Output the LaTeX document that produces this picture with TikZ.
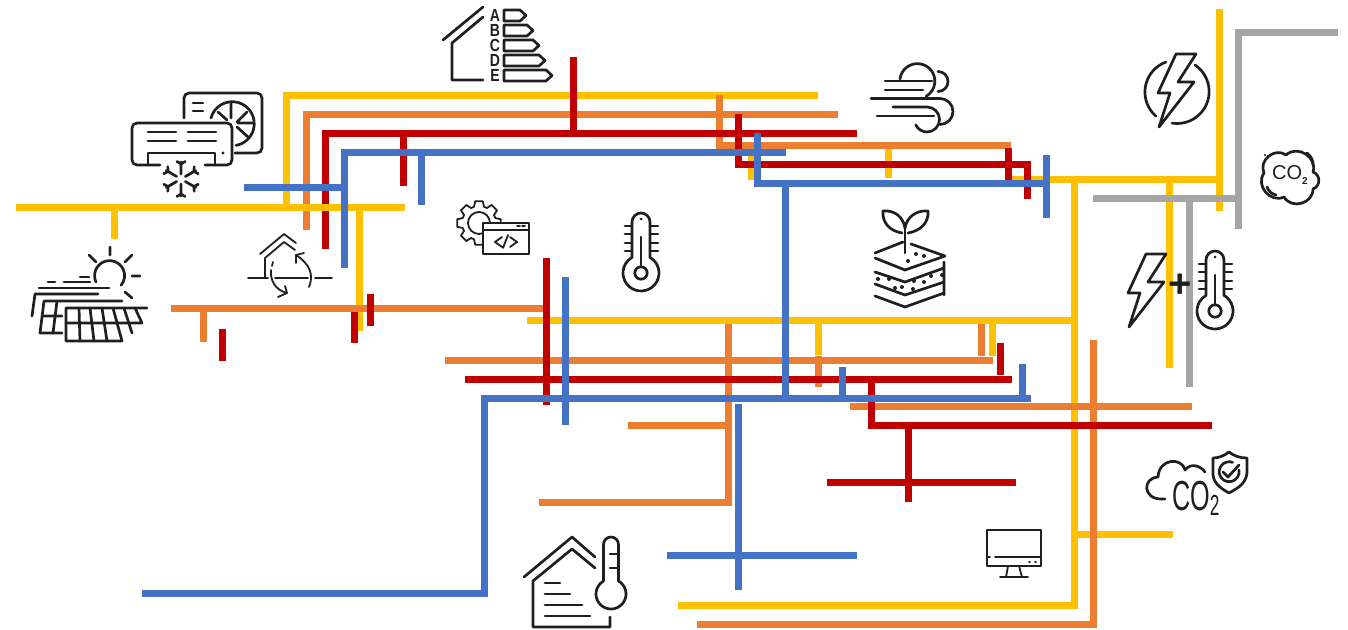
\documentclass[tikz,border=0pt]{standalone}
\usepackage{fontspec}
\setmainfont{Liberation Sans}
\usetikzlibrary{arrows.meta,positioning,calc}
\definecolor{NetYellow}{HTML}{FFC000}
\definecolor{NetOrange}{HTML}{ED7D31}
\definecolor{NetRed}{HTML}{C00000}
\definecolor{NetBlue}{HTML}{4472C4}
\definecolor{NetGray}{HTML}{A5A5A5}
\definecolor{NetInk}{HTML}{1F1F1F}
\tikzset{
  bus/.style={line width=7pt,miter limit=10},
  busyellow/.style={bus,NetYellow},
  busorange/.style={bus,NetOrange},
  busred/.style={bus,NetRed},
  busblue/.style={bus,NetBlue},
  busgray/.style={bus,NetGray},
  icon/.style={draw=NetInk,line width=2.7pt,line cap=round,line join=round},
  iconthin/.style={icon,line width=1.8pt},
  icondot/.style={fill=NetInk,draw=none},
  iconlabel/.style={text=NetInk,inner sep=0pt},
  energylabel/.style={iconlabel,font=\fontsize{17.5}{17.5}\selectfont\bfseries,xscale=.8,transform shape},
  thermopic/.pic={
    \draw[icon] (-9,-15.6) -- (-9,-51) arc[start angle=180,end angle=360,radius=9]
      -- (9,-15.6) arc[start angle=-60,end angle=240,radius=18];
    \draw[icon] (0,-36) -- (0,-6);
    \draw[icon] (0,0) circle[radius=6.2];
    \fill[icondot] (0,-54) circle[radius=1.5];
    \draw[icon] (-16,-47) -- (-9,-47) (-16,-39) -- (-9,-39) (-16,-30) -- (-9,-30) (-16,-22) -- (-9,-22);
    \draw[icon] (9,-47) -- (17,-47) (9,-39) -- (17,-39) (9,-30) -- (17,-30) (9,-22) -- (17,-22);
  },
  boltpic/.pic={
    \draw[icon] (0,0) -- (20,0) -- (2,28) -- (18,28) -- (-17,73) -- (-6,39) -- (-18,39) -- cycle;
  },
}
\begin{document}
\begin{tikzpicture}[x=1pt,y=-1pt]
    \useasboundingbox (0,0) rectangle (1348,629);

    \draw[busyellow] (286,211) -- (286,95) -- (818,95);
    \draw[busyellow] (114,207) -- (114,239);
    \draw[busyellow] (359,207) -- (359,331);
    \draw[busyellow] (751,145) -- (751,180);
    \draw[busyellow] (888,145) -- (888,178);
    \draw[busyellow] (1008,179) -- (1219,179);
    \draw[busyellow] (1219,9) -- (1219,211);
    \draw[busyellow] (1169,179) -- (1169,368);
    \draw[busyellow] (1074,179) -- (1074,605) -- (678,605);
    \draw[busyellow] (1074,534) -- (1173,534);
    \draw[busyellow] (527,320) -- (1074,320);
    \draw[busyellow] (818,320) -- (818,355);
    \draw[busyellow] (992,324) -- (992,356);

    \draw[busorange] (306,230) -- (306,114) -- (838,114);
    \draw[busorange] (719,95) -- (719,145) -- (1011,145);
    \draw[busorange] (171,308) -- (546,308);
    \draw[busorange] (203,308) -- (203,342);
    \draw[busorange] (445,360) -- (993,360);
    \draw[busorange] (818,356) -- (818,387);
    \draw[busorange] (981,324) -- (981,356);
    \draw[busorange] (728,324) -- (728,502) -- (539,502);
    \draw[busorange] (628,425) -- (728,425);
    \draw[busorange] (850,406) -- (1192,406);
    \draw[busorange] (1093,340) -- (1093,624) -- (697,624);

    \draw[busred] (325,249) -- (325,133) -- (857,133);
    \draw[busred] (573,57) -- (573,133);
    \draw[busred] (403,133) -- (403,186);
    \draw[busred] (738,114) -- (738,164) -- (1027,164) -- (1027,199);
    \draw[busred] (1008,148) -- (1008,180);
    \draw[busred] (222,329) -- (222,361);
    \draw[busred] (354,312) -- (354,343);
    \draw[busred] (370,294) -- (370,326);
    \draw[busred] (546,258) -- (546,405);
    \draw[busred] (465,379) -- (1012,379);
    \draw[busred] (1000,343) -- (1000,375);
    \draw[busred] (871,379) -- (871,425) -- (1212,425);
    \draw[busred] (908,425) -- (908,502);
    \draw[busred] (827,482) -- (1016,482);

    \draw[busyellow] (16,207) -- (405,207);

    \draw[busblue] (344,268) -- (344,152) -- (786,152);
    \draw[busblue] (244,187) -- (344,187);
    \draw[busblue] (421,152) -- (421,205);
    \draw[busblue] (757,133) -- (757,183) -- (1046,183);
    \draw[busblue] (1046,155) -- (1046,218);
    \draw[busblue] (785,183) -- (785,398);
    \draw[busblue] (565,277) -- (565,425);
    \draw[busblue] (1031,398) -- (484,398) -- (484,593) -- (142,593);
    \draw[busblue] (842,367) -- (842,398);
    \draw[busblue] (1022,364) -- (1022,398);
    \draw[busblue] (738,404) -- (738,590);
    \draw[busblue] (667,555) -- (857,555);

    \draw[busgray] (1093,198) -- (1238,198);
    \draw[busgray] (1238,229) -- (1238,32) -- (1338,32);
    \draw[busgray] (1189,198) -- (1189,387);

    \draw[icon] (443,40) -- (483,7);
    \draw[icon] (483,17) -- (452,43) -- (452,80) -- (483,80);
    \node[energylabel] (labelA) at (495,15) {A};
    \node[energylabel] (labelB) at (495,30) {B};
    \node[energylabel] (labelC) at (495,45) {C};
    \node[energylabel] (labelD) at (495,60) {D};
    \node[energylabel] (labelE) at (495,75) {E};
    \draw[icon] (504,10) -- (520,10) -- (526,15.5) -- (520,21) -- (504,21) -- cycle;
    \draw[icon] (504,25) -- (527,25) -- (533,30.5) -- (527,36) -- (504,36) -- cycle;
    \draw[icon] (504,40) -- (533,40) -- (539,45.5) -- (533,51) -- (504,51) -- cycle;
    \draw[icon] (504,55) -- (539,55) -- (545,60.5) -- (539,66) -- (504,66) -- cycle;
    \draw[icon] (504,70) -- (546,70) -- (552,75.5) -- (546,81) -- (504,81) -- cycle;

    \draw[icon,rounded corners=5pt] (184,118) -- (184,93) -- (262,93) -- (262,153) -- (235,153);
    \draw[icon] (211,118) arc[start angle=195,end angle=440,radius=22];
    \draw[icon] (231,103) -- (231,118) (247,112) -- (237,122) (253,123) -- (238,123) (248,137) -- (237,127) (218,112) -- (227,120);
    \draw[icon] (193,103) -- (203,103) (193,111) -- (203,111);
    \draw[icon,rounded corners=5pt] (160,165) -- (132,165) -- (132,123) -- (232,123) -- (232,165) -- (205,165);
    \draw[icon] (148,165) -- (148,153) -- (215,153) -- (215,165);
    \draw[icon] (148,132) -- (176,132) (148,141) -- (176,141) (188,132) -- (216,132) (188,141) -- (216,141);
    \fill[icondot] (223,153) circle[radius=1.6];
    \begin{scope}[shift={(181,179)}]
      \foreach \ang in {30,90,150,210,270,330} {
        \draw[icon] (\ang:5) -- (\ang:17) (\ang:15) -- (\ang+13:18) (\ang:15) -- (\ang-13:18);
      }
    \end{scope}

    \draw[icon] (96,282) arc[start angle=155,end angle=400,radius=15];
    \draw[icon] (110,247) -- (110,255) (89,255) -- (96,262) (132,255) -- (125,262) (132,276) -- (140,276) (125,292) -- (132,298);
    \draw[icon] (48,282) -- (55,282) (64,282) -- (90,282) (80,277) -- (89,277);
    \draw[icon] (39,288) -- (109,288);
    \draw[icon] (32,316) -- (35,294) -- (98,294);
    \draw[icon] (122,301) -- (44,301) -- (40,333) -- (62,333);
    \draw[icon] (57,301) -- (53,333) (42,316) -- (62,316);
    \draw[icon] (147,308) -- (66,308) -- (66,341) -- (122,341) -- (113,308);
    \draw[icon] (66,323) -- (142,323) -- (135,308);
    \draw[icon] (79,308) -- (80,341) (90,308) -- (94,341) (102,308) -- (107,341) (124,308) -- (132,333);

    \draw[iconthin] (260,254) -- (284,234) -- (296,243);
    \draw[iconthin] (295,250) -- (284,242) -- (265,258) -- (265,278);
    \draw[iconthin] (248,278) -- (268,278) (275,278) -- (308,278) (315,278) -- (332,278);
    \draw[iconthin] (273,262) -- (272,266);
    \draw[iconthin] (271,270) .. controls (270,280) and (275,290) .. (287,293);
    \draw[iconthin] (278,297) -- (287,293) -- (285,286);
    \draw[iconthin] (309,287) .. controls (314,275) and (310,264) .. (296,255);
    \draw[iconthin] (296,263) -- (296,255) -- (304,253);

    \begin{scope}[shift={(479,223)}]
      \foreach \ang in {0,45,...,315} {
        \draw[iconthin] (\ang-10:22) -- (\ang+10:22) -- (\ang+17:17) -- (\ang+28:17) -- (\ang+35:22);
      }
      \draw[iconthin] (0,0) circle[radius=11];
    \end{scope}
    \draw[iconthin,fill=white] (483,223) rectangle (529,254);
    \draw[iconthin] (483,230) -- (529,230);
    \draw[iconthin] (517,226) -- (520,226) (522,226) -- (525,226);
    \draw[iconthin] (502,237) -- (495,242) -- (502,247) (510,237) -- (517,242) -- (510,247) (508,235) -- (503,248);

    \pic at (641,273) {thermopic};

    \draw[icon] (885,81) -- (932,81);
    \draw[icon] (885,90) -- (923,90);
    \draw[icon] (900,79) arc[start angle=187,end angle=420,radius=17.5];
    \draw[icon] (871,98.5) -- (940,98.5) arc[start angle=270,end angle=450,radius=13];
    \draw[icon] (938,71.5) arc[start angle=270,end angle=450,radius=10];
    \draw[icon] (893,107) -- (927,107) arc[start angle=270,end angle=515,radius=12.5];
    \draw[icon] (877,116) -- (934,116);

    \draw[icon] (905,253) -- (905,223);
    \draw[icon] (883,211) .. controls (895,210) and (903,217) .. (905,228);
    \draw[icon] (883,211) .. controls (882,223) and (890,231) .. (902,233);
    \draw[icon] (928,211) .. controls (916,210) and (907,217) .. (905,228);
    \draw[icon] (928,211) .. controls (929,223) and (920,231) .. (908,233);
    \draw[icon] (875,253) -- (903,242) (911,244) -- (945,256) -- (905,270) -- (875,258);
    \draw[icon] (875,272) -- (905,282) -- (944,268) (944,262) -- (944,295);
    \draw[icon] (875,284) -- (905,295) -- (944,282);
    \draw[icon] (875,296) -- (905,307) -- (944,293);
    \fill[icondot] (908,261) circle[radius=2] (916,254) circle[radius=2] (924,256) circle[radius=2];
    \fill[icondot] (878,279) circle[radius=2] (889,279) circle[radius=2] (895,288) circle[radius=2] (902,287) circle[radius=2] (913,289) circle[radius=2];
    \fill[icondot] (914,281) circle[radius=2] (924,282) circle[radius=2] (931,276) circle[radius=2] (942,275) circle[radius=2];

    \pic at (1176,54) {boltpic};
    \draw[icon] (1166,62) arc[start angle=250,end angle=131,radius=32];
    \draw[icon] (1195,65) arc[start angle=-56,end angle=99,radius=32];

    \pic at (1146,254) {boltpic};
    \node[iconlabel,font=\fontsize{40}{40}\selectfont\bfseries] (plussign) at (1180,286) {+};
    \pic at (1215,311) {thermopic};

    \draw[icon,looseness=1.25] (1286,155) to[bend left=75] (1313,172) to[bend left=70] (1313,189)
      to[bend left=75] (1284,197) to[bend left=75] (1264,173) to[bend left=75] cycle;
    \draw[icon] (1307,153) .. controls (1312,157) and (1313,161) .. (1313,165);
    \draw[icon] (1267,187) .. controls (1269,192) and (1272,194) .. (1276,195);
    \fill[icondot] (1265,155) circle[radius=1.2] (1300,152) circle[radius=1.2];
    \node[iconlabel,font=\fontsize{20}{20}\selectfont] (cotwo) at (1290,175) {CO\raisebox{-.45ex}{\fontsize{10}{10}\selectfont\bfseries 2}};

    \draw[icon] (1165,499) -- (1161,499) .. controls (1143,499) and (1142,478) .. (1158,477)
      .. controls (1159,458) and (1182,457) .. (1185,470) .. controls (1190,463) and (1200,465) .. (1205,472);
    \node[iconlabel,anchor=base west,font=\fontsize{42}{42}\selectfont,xscale=.6,transform shape] (cotwoshield) at (1172,510)
      {CO\raisebox{-5pt}{\fontsize{29}{29}\selectfont 2}};
    \draw[icon] (1229,452) .. controls (1224,456) and (1218,458) .. (1213,458) -- (1213,475)
      .. controls (1214,485) and (1224,490) .. (1229,493) .. controls (1234,490) and (1246,485) .. (1247,473)
      -- (1247,458) .. controls (1240,458) and (1234,456) .. cycle;
    \draw[icon] (1239,470) arc[start angle=-10,end angle=290,radius=10];
    \draw[icon] (1223,472) -- (1228,477) -- (1239,465);

    \draw[iconthin] (987,530) rectangle (1041,566);
    \draw[iconthin] (987,557) -- (990,557) (995,557) -- (1041,557);
    \draw[iconthin] (1029,562) -- (1030,562) (1035,562) -- (1036,562);
    \draw[iconthin] (1008,566) -- (1006,577) (1019,566) -- (1022,577) (1000,577) -- (1028,577);

    \draw[icon] (524,577) -- (572,537) -- (595,557);
    \draw[icon] (595,568) -- (572,549) -- (533,581) -- (533,627) -- (610,627) -- (610,617);
    \draw[icon] (545,583) -- (560,583) (545,594) -- (570,594) (545,605) -- (582,605) (545,616) -- (590,616);
    \draw[icon] (603.5,581) -- (603.5,544.5) arc[start angle=180,end angle=360,radius=7.5]
      -- (618.5,581) arc[start angle=-60,end angle=240,radius=15];
    \draw[icon] (610,554) -- (618,554) (610,568) -- (618,568);
\end{tikzpicture}
\end{document}
